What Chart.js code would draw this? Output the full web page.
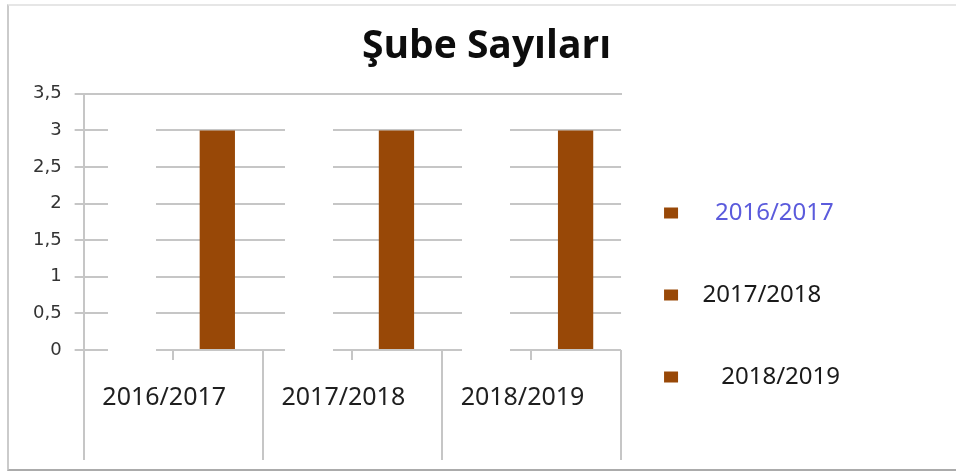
<!DOCTYPE html>
<html>
<head>
<meta charset="utf-8">
<script src="https://cdn.jsdelivr.net/npm/chart.js@4.4.1/dist/chart.umd.min.js"></script>
<style>
  html, body { margin: 0; padding: 0; background: #fff; }
  #frame {
    position: absolute; left: 7px; top: 4px; width: 947px; height: 463px;
    border-left: 2px solid #cbcbcb; border-top: 2px solid #e6e6e6; border-bottom: 2px solid #ababab;
  }
  canvas { display: block; }
</style>
</head>
<body>
<div id="frame"><canvas id="chart" width="947" height="463"></canvas></div>
<script>
// data
const categories = ['2016/2017', '2017/2018', '2018/2019'];
const subeSayisi = [3, 3, 3];
const yTickValues = [0, 0.5, 1, 1.5, 2, 2.5, 3, 3.5];

// legend look (first entry is blue in the original)
const legendColors = ['#5b5bdc', '#1a1a1a', '#1a1a1a'];
const legendIndent = [4, 2, 5];

const BAR = '#984807';
const GRID = '#c6c6c6';

// legend: one column whatever the height, plus extra width so the title stays centred
const widenLegend = {
    id: 'widenLegend',
    beforeInit(chart) {
        const fit = chart.legend.fit;
        chart.legend.fit = function () {
            this.maxHeight = chart.height;
            fit.call(this);
            this.width += 103;
        };
    }
};

new Chart(document.getElementById('chart'), {
    type: 'bar',
    data: {
        labels: categories,
        datasets: [
            { label: 'bos', data: categories.map(() => null) },   // empty slot, pushes bar to the right
            { label: 'Şube Sayısı', data: subeSayisi, backgroundColor: BAR }
        ]
    },
    options: {
        responsive: false,
        animation: false,
        categoryPercentage: 0.985,
        barPercentage: 0.4,
        layout: { padding: { top: 0, left: 11, right: 3, bottom: 23 } },
        plugins: {
            tooltip: { enabled: false },
            title: {
                display: true,
                text: 'Şube Sayıları',
                color: '#0d0d0d',
                font: { family: 'Open Sans', size: 39, weight: 'bold' },
                padding: { top: 17, bottom: 24 }
            },
            legend: {
                position: 'right',
                align: 'start',
                title: { display: true, text: ' ', font: { size: 10 }, padding: { top: 0, bottom: 140 } },
                labels: {
                    boxWidth: 14,
                    boxHeight: 11,
                    padding: 43,
                    font: { family: 'Noto Sans', size: 24, lineHeight: 1.625 },
                    generateLabels: () => categories.map((c, i) => ({
                        text: [' '.repeat(legendIndent[i]) + c],
                        fillStyle: BAR,
                        strokeStyle: BAR,
                        lineWidth: 0,
                        fontColor: legendColors[i],
                        hidden: false,
                        index: i
                    }))
                }
            }
        },
        scales: {
            y: {
                min: 0,
                max: 3.5,
                afterBuildTicks: (scale) => { scale.ticks = yTickValues.map(v => ({ value: v })); },
                ticks: {
                    color: '#333333',
                    padding: 13,
                    font: { family: 'DejaVu Sans', size: 18 },
                    callback: (v) => String(v).replace('.', ',')
                },
                grid: { color: GRID, lineWidth: 2, tickLength: 9, tickColor: GRID },
                border: { display: true, color: GRID, width: 2, dash: [129, 48], dashOffset: 106 }
            },
            x: {
                offset: true,
                grid: { display: false, drawTicks: false },
                border: { display: false },
                ticks: {
                    color: '#1f1f1f',
                    padding: 33,
                    labelOffset: -9,
                    maxRotation: 0,
                    autoSkip: false,
                    font: { family: 'Noto Sans', size: 25 }
                }
            },
            // long separators between the category labels
            xBounds: {
                type: 'category',
                labels: categories,
                position: { y: 0 },
                offset: true,
                grid: { offset: true, drawOnChartArea: false, tickLength: 110, color: GRID, lineWidth: 2 },
                border: { display: false },
                ticks: { display: false }
            },
            // short tick under each category
            xCenter: {
                type: 'category',
                labels: categories,
                position: { y: 0 },
                offset: true,
                grid: { offset: false, drawOnChartArea: false, tickLength: 10, color: GRID, lineWidth: 2 },
                border: { display: false },
                ticks: { display: false }
            },
            xTop: {
                type: 'category',
                labels: categories,
                position: { y: 3.5 },
                grid: { drawOnChartArea: false, drawTicks: false },
                border: { display: true, color: GRID, width: 2 },
                ticks: { display: false }
            }
        }
    },
    plugins: [widenLegend]
});
</script>
</body>
</html>
